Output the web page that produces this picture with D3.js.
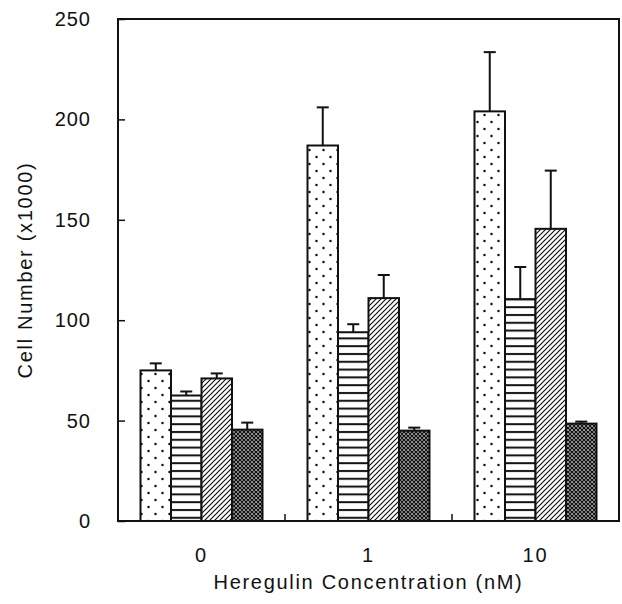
<!DOCTYPE html>
<html>
<head>
<meta charset="utf-8">
<script src="https://cdn.jsdelivr.net/npm/d3@7"></script>
<style>
  body { margin: 0; background: #fff; }
  text { font-family: "Liberation Sans", Arial, sans-serif; fill: #111; }
</style>
</head>
<body>
<script>
// data
const concentrations = ['0', '1', '10'];
const seriesNames = ['dots', 'hlines', 'diag', 'cross'];
const dotsValues   = [75, 187, 204];
const dotsErr      = [3.5, 19, 29.5];
const hlinesValues = [62.5, 94, 110.5];
const hlinesErr    = [2, 4, 16];
const diagValues   = [71, 111, 145.5];
const diagErr      = [2.5, 11.5, 29];
const crossValues  = [45.5, 45, 48.5];
const crossErr     = [3.5, 1.5, 1];
const yTicks = [0, 50, 100, 150, 200, 250];

const values = [dotsValues, hlinesValues, diagValues, crossValues];
const errors = [dotsErr, hlinesErr, diagErr, crossErr];

const rows = [];
concentrations.forEach((c, i) => {
  seriesNames.forEach((s, j) => {
    rows.push({ conc: c, series: s, value: values[j][i], err: errors[j][i] });
  });
});

const W = 622, H = 604;
const svg = d3.select('body').append('svg')
  .attr('width', W)
  .attr('height', H);

// patterns
const defs = svg.append('defs');

const pDots = defs.append('pattern')
  .attr('id', 'dots').attr('patternUnits', 'userSpaceOnUse')
  .attr('width', 14).attr('height', 14).attr('x', 141).attr('y', 0);
pDots.append('rect').attr('width', 14).attr('height', 14).attr('fill', '#fff');
pDots.append('circle').attr('cx', 7.5).attr('cy', 3).attr('r', 1.25).attr('fill', '#111');
pDots.append('circle').attr('cx', 0.5).attr('cy', 10).attr('r', 1.25).attr('fill', '#111');
pDots.append('circle').attr('cx', 14.5).attr('cy', 10).attr('r', 1.25).attr('fill', '#111');

const pLines = defs.append('pattern')
  .attr('id', 'hlines').attr('patternUnits', 'userSpaceOnUse')
  .attr('width', 8).attr('height', 7.8);
pLines.append('rect').attr('width', 8).attr('height', 7.8).attr('fill', '#fff');
pLines.append('line').attr('x1', 0).attr('x2', 8).attr('y1', 3).attr('y2', 3)
  .attr('stroke', '#111').attr('stroke-width', 2);

const pDiag = defs.append('pattern')
  .attr('id', 'diag').attr('patternUnits', 'userSpaceOnUse')
  .attr('width', 5).attr('height', 5);
pDiag.append('rect').attr('width', 5).attr('height', 5).attr('fill', '#fff');
pDiag.append('path').attr('d', 'M0,5 L5,0 M-1,1 L1,-1 M4,6 L6,4')
  .attr('stroke', '#111').attr('stroke-width', 1.2);

const pCross = defs.append('pattern')
  .attr('id', 'cross').attr('patternUnits', 'userSpaceOnUse')
  .attr('width', 4).attr('height', 4);
pCross.append('rect').attr('width', 4).attr('height', 4).attr('fill', '#fff');
pCross.append('path').attr('d', 'M0,4 L4,0 M-1,1 L1,-1 M3,5 L5,3 M0,0 L4,4 M-1,3 L1,5 M3,-1 L5,1')
  .attr('stroke', '#111').attr('stroke-width', 1.5);

// scales
const plotLeft = 118, plotRight = 619, plotTop = 19, plotBottom = 521;

const x0 = d3.scaleBand()
  .domain(concentrations)
  .range([plotLeft, plotRight]);

const x1 = d3.scaleBand()
  .domain(seriesNames)
  .range([x0.bandwidth() / 2 - 61, x0.bandwidth() / 2 + 61]);

const y = d3.scaleLinear()
  .domain([0, 250])
  .range([plotBottom, plotTop]);

// bars
const bars = svg.append('g').attr('class', 'bars');

bars.selectAll('rect')
  .data(rows)
  .enter()
  .append('rect')
  .attr('x', d => x0(d.conc) + x1(d.series))
  .attr('y', d => y(d.value))
  .attr('width', x1.bandwidth())
  .attr('height', d => y(0) - y(d.value))
  .attr('fill', d => `url(#${d.series})`)
  .attr('stroke', '#111')
  .attr('stroke-width', 2);

// error bars (upper only)
const errG = svg.append('g').attr('class', 'errors')
  .attr('stroke', '#111').attr('stroke-width', 2);

errG.selectAll('line.stem')
  .data(rows)
  .enter()
  .append('line')
  .attr('class', 'stem')
  .attr('x1', d => x0(d.conc) + x1(d.series) + x1.bandwidth() / 2)
  .attr('x2', d => x0(d.conc) + x1(d.series) + x1.bandwidth() / 2)
  .attr('y1', d => y(d.value))
  .attr('y2', d => y(d.value + d.err));

errG.selectAll('line.cap')
  .data(rows)
  .enter()
  .append('line')
  .attr('class', 'cap')
  .attr('x1', d => x0(d.conc) + x1(d.series) + x1.bandwidth() / 2 - 6)
  .attr('x2', d => x0(d.conc) + x1(d.series) + x1.bandwidth() / 2 + 6)
  .attr('y1', d => y(d.value + d.err))
  .attr('y2', d => y(d.value + d.err));

// frame
svg.append('rect')
  .attr('x', plotLeft).attr('y', plotTop)
  .attr('width', plotRight - plotLeft).attr('height', plotBottom - plotTop)
  .attr('fill', 'none')
  .attr('stroke', '#111')
  .attr('stroke-width', 2);

// y axis (ticks inward)
const yAxis = d3.axisLeft(y)
  .tickValues(yTicks)
  .tickSizeInner(-7)
  .tickSizeOuter(0)
  .tickPadding(27);

const yG = svg.append('g')
  .attr('transform', `translate(${plotLeft},0)`)
  .call(yAxis);
yG.select('.domain').remove();
yG.selectAll('.tick line').attr('stroke', '#111').attr('stroke-width', 1.5);
yG.selectAll('.tick text')
  .style('font-size', '20px')
  .style('font-family', '"Liberation Sans", Arial, sans-serif')
  .style('letter-spacing', '1px')
  .attr('fill', '#111');

// x axis: labels under groups, small ticks between groups
const xAxis = d3.axisBottom(x0)
  .tickSize(0)
  .tickPadding(27);

const xG = svg.append('g')
  .attr('transform', `translate(0,${plotBottom})`)
  .call(xAxis);
xG.select('.domain').remove();
xG.selectAll('.tick text')
  .style('font-size', '20px')
  .style('font-family', '"Liberation Sans", Arial, sans-serif')
  .style('letter-spacing', '2px')
  .attr('fill', '#111');

svg.append('g').selectAll('line')
  .data(concentrations.slice(1))
  .enter()
  .append('line')
  .attr('x1', d => x0(d))
  .attr('x2', d => x0(d))
  .attr('y1', plotBottom)
  .attr('y2', plotBottom - 7)
  .attr('stroke', '#111')
  .attr('stroke-width', 1.5);

// axis titles
svg.append('text')
  .attr('x', (plotLeft + plotRight) / 2)
  .attr('y', 589)
  .attr('text-anchor', 'middle')
  .style('font-size', '20px')
  .style('letter-spacing', '1.7px')
  .text('Heregulin Concentration (nM)');

svg.append('text')
  .attr('transform', `translate(32,${(plotTop + plotBottom) / 2}) rotate(-90)`)
  .attr('text-anchor', 'middle')
  .style('font-size', '20px')
  .style('letter-spacing', '1.7px')
  .text('Cell Number (x1000)');
</script>
</body>
</html>
